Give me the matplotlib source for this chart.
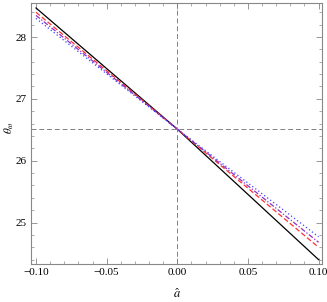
import matplotlib
matplotlib.use("Agg")
import matplotlib.pyplot as plt
from matplotlib.ticker import MultipleLocator

plt.rcParams['font.family'] = ['Liberation Serif', 'DejaVu Serif']
plt.rcParams['mathtext.fontset'] = 'stix'

x = [-0.10, 0.0, 0.10]
black = [28.47, 26.51, 24.40]
red = [28.40, 26.51, 24.60]
purple = [28.35, 26.51, 24.68]
blue = [28.30, 26.51, 24.77]

fig = plt.figure(figsize=(3.27, 3.02), dpi=100)
ax = fig.add_axes([0.095, 0.126, 0.89, 0.864])

ax.plot(x, black, color='black', lw=0.9, ls='-')
ax.plot(x, red, color='#ff3030', lw=0.9, ls=(0, (4, 2)))
ax.plot(x, purple, color='#9030c0', lw=0.9, ls=(0, (4, 1.5, 1, 1.5)))
ax.plot(x, blue, color='#4040ff', lw=0.9, ls=(0, (1, 2)))

ax.axvline(0, color='gray', lw=0.7, ls=(0, (5, 3)))
ax.axhline(26.51, color='gray', lw=0.7, ls=(0, (5, 3)))

ax.set_xlim(-0.1035, 0.1025)
ax.set_ylim(24.33, 28.55)
ax.xaxis.set_major_locator(MultipleLocator(0.05))
ax.xaxis.set_minor_locator(MultipleLocator(0.01))
ax.yaxis.set_major_locator(MultipleLocator(1))
ax.yaxis.set_minor_locator(MultipleLocator(0.2))
ax.xaxis.set_major_formatter(plt.FuncFormatter(lambda v, p: f"{v:.2f}".replace('-', '\u2212')))
ax.yaxis.set_major_formatter(plt.FuncFormatter(lambda v, p: f"{v:.0f}"))
ax.tick_params(which='both', direction='in', top=True, right=True, color='#888888', labelsize=8, pad=3)
ax.tick_params(which='major', length=4, width=0.6)
ax.tick_params(which='minor', length=2, width=0.5)
for s in ax.spines.values():
    s.set_color('#888888')
    s.set_linewidth(0.8)

ax.set_xlabel(r'$\hat{a}$', fontsize=9)
ax.set_ylabel(r'$\theta_{\omega}$', fontsize=8)
ax.xaxis.set_label_coords(0.5, -0.09)
ax.yaxis.set_label_coords(-0.052, 0.52)

fig.savefig('out.png', dpi=100)
